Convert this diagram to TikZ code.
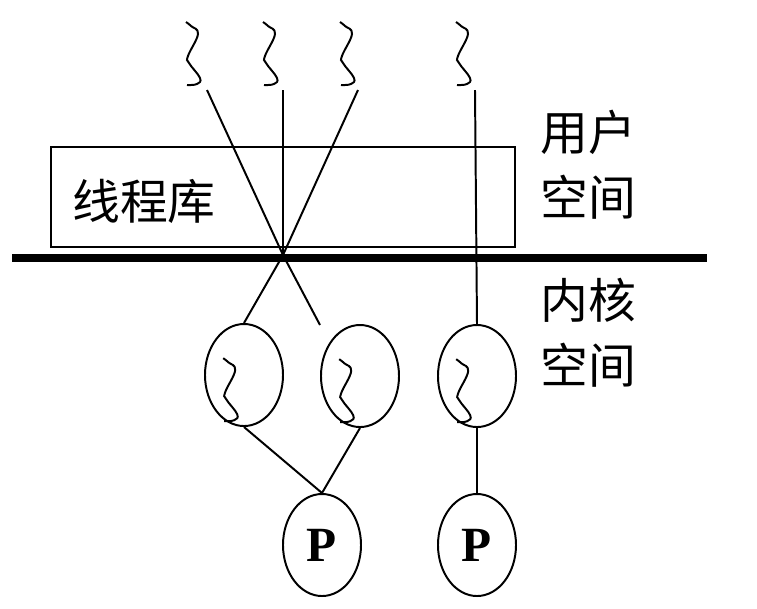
\documentclass[tikz,border=0pt]{standalone}
\usepackage{fontspec}
\setmainfont{Liberation Serif}
\newfontfamily\cjk{Noto Sans CJK SC}
\usetikzlibrary{shapes.geometric}
\tikzset{
 thin line/.style={line width=1.4pt},
 proc/.style={draw, ellipse, thin line, minimum width=1.95cm, minimum height=2.55cm, inner sep=0pt},
 kthread/.style={proc},
 libbox/.style={draw, line width=1pt, minimum width=11.6cm, minimum height=2.5cm},
 label/.style={font=\cjk\fontsize{34}{46}\selectfont, align=center, inner sep=0pt},
 kline/.style={line width=5.6pt},
 thread/.pic={\draw[thin line] plot[smooth, tension=0.7] coordinates {(0,0) (5,4) (12,12) (2,34) (3,41) (14,56) (11,62) (1,63)};}
}
\begin{document}
\begin{tikzpicture}[x=0.025cm, y=-0.025cm]
\useasboundingbox (0,0) rectangle (757,608);
\node[libbox] (lib) at (283,197) {};
\node[label, anchor=west] (libtxt) at (72,201) {线程库};
\draw[kline] (12,258) coordinate (kl) -- (707,258) coordinate (kr);
\node[label] (user) at (588,165) {用户\\空间};
\node[label] (kern) at (588,333) {内核\\空间};
\foreach \x/\n in {186/1,263/2,340/3,456/4}
  \pic at (\x,22) {thread};
\coordinate (t1) at (207,90);
\coordinate (t2) at (283,90);
\coordinate (t3) at (358,90);
\coordinate (t4) at (475,90);
\coordinate (x) at (283,255);
\coordinate (m) at (320,325);
\node[kthread] (k1) at (244,375) {};
\node[kthread] (k2) at (360,376) {};
\node[kthread] (k3) at (477,376) {};
\foreach \k in {k1,k2,k3}
  \pic at ([xshift=-0.52cm,yshift=0.42cm]\k.center) {thread};
\node[proc] (p1) at (322,545) {\bfseries\fontsize{35}{40}\selectfont P};
\node[proc] (p2) at (477,545) {\bfseries\fontsize{35}{40}\selectfont P};
\draw[thin line] (t1) -- (x) -- (m);
\draw[thin line] (t2) -- (x);
\draw[thin line] (t3) -- (x) -- (k1.north);
\draw[thin line] (t4) -- (k3.north);
\draw[thin line] (k1.south) -- (p1.north) -- (k2.south);
\draw[thin line] (k3.south) -- (p2.north);
\end{tikzpicture}
\end{document}
